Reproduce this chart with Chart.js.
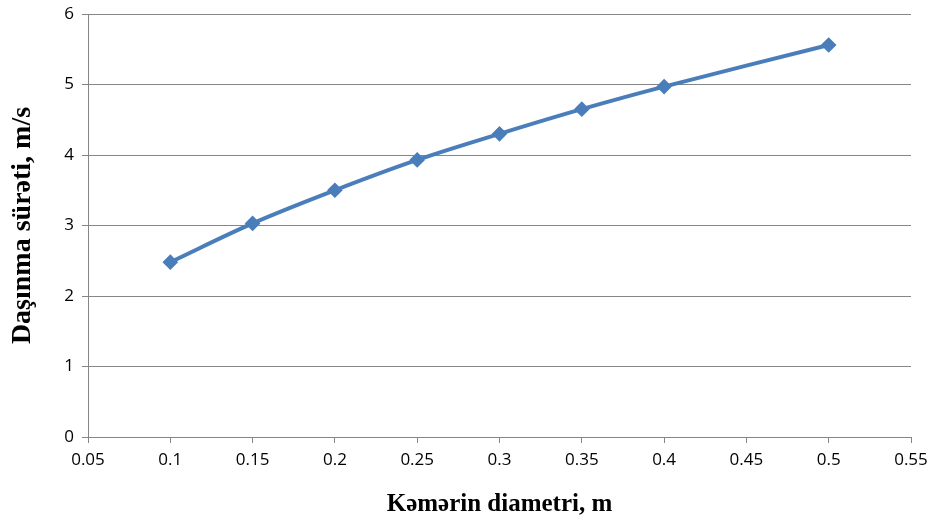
<!DOCTYPE html>
<html>
<head>
<meta charset="utf-8">
<script src="https://cdn.jsdelivr.net/npm/chart.js@4/dist/chart.umd.min.js"></script>
<style>
  html, body { margin: 0; padding: 0; background: #fff; }
  #wrap { width: 932px; height: 521px; }
</style>
</head>
<body>
<div id="wrap"><canvas id="chart" width="932" height="521"></canvas></div>
<script>
// Kəmərin diametri (m) və daşınma sürəti (m/s)
const diameters = [0.1, 0.15, 0.2, 0.25, 0.3, 0.35, 0.4, 0.5];
const speeds = [2.48, 3.03, 3.50, 3.93, 4.30, 4.65, 4.97, 5.56];
const xTitle = 'Kəmərin diametri, m';
const yTitle = 'Daşınma sürəti, m/s';

const points = diameters.map((d, i) => ({ x: d, y: speeds[i] }));
const tickFont = { family: "'Open Sans', 'Liberation Sans', sans-serif", size: 17 };
const serif = "'Liberation Serif', 'Times New Roman', serif";

new Chart(document.getElementById('chart'), {
    type: 'scatter',
    data: {
        datasets: [{
            data: points,
            showLine: true,
            borderColor: '#4a7ebb',
            backgroundColor: '#4a7ebb',
            borderWidth: 4,
            tension: 0.35,
            pointStyle: 'rectRot',
            pointRadius: 5,
            pointHoverRadius: 5
        }]
    },
    options: {
        responsive: false,
        animation: false,
        layout: { padding: { left: 0, top: 14, right: 21, bottom: 0 } },
        plugins: { legend: { display: false }, tooltip: { enabled: false } },
        scales: {
            x: {
                type: 'linear',
                min: 0.05,
                max: 0.55,
                ticks: {
                    stepSize: 0.05,
                    color: '#000',
                    font: tickFont,
                    padding: 7,
                    callback: v => Math.round(v * 100) / 100
                },
                grid: { drawOnChartArea: false, color: '#868686', tickLength: 6 },
                border: { color: '#868686', width: 1 },
                title: { display: true, text: xTitle, color: '#000', font: { family: serif, size: 25, weight: 'bold' }, padding: { top: 22, bottom: 1 } },
                afterFit: s => { s.height = 84; s.paddingLeft = 0; s.paddingRight = 0; }
            },
            y: {
                min: 0,
                max: 6,
                ticks: { stepSize: 1, color: '#000', font: tickFont, padding: 8 },
                grid: { color: '#868686', tickLength: 6 },
                border: { color: '#868686', width: 1 },
                title: { display: true, text: yTitle, color: '#000', font: { family: serif, size: 28, weight: 'bold' }, padding: { top: 6, bottom: 0 } },
                afterFit: s => { s.width = 88; s.paddingTop = 0; s.paddingBottom = 0; }
            }
        }
    }
});
</script>
</body>
</html>
